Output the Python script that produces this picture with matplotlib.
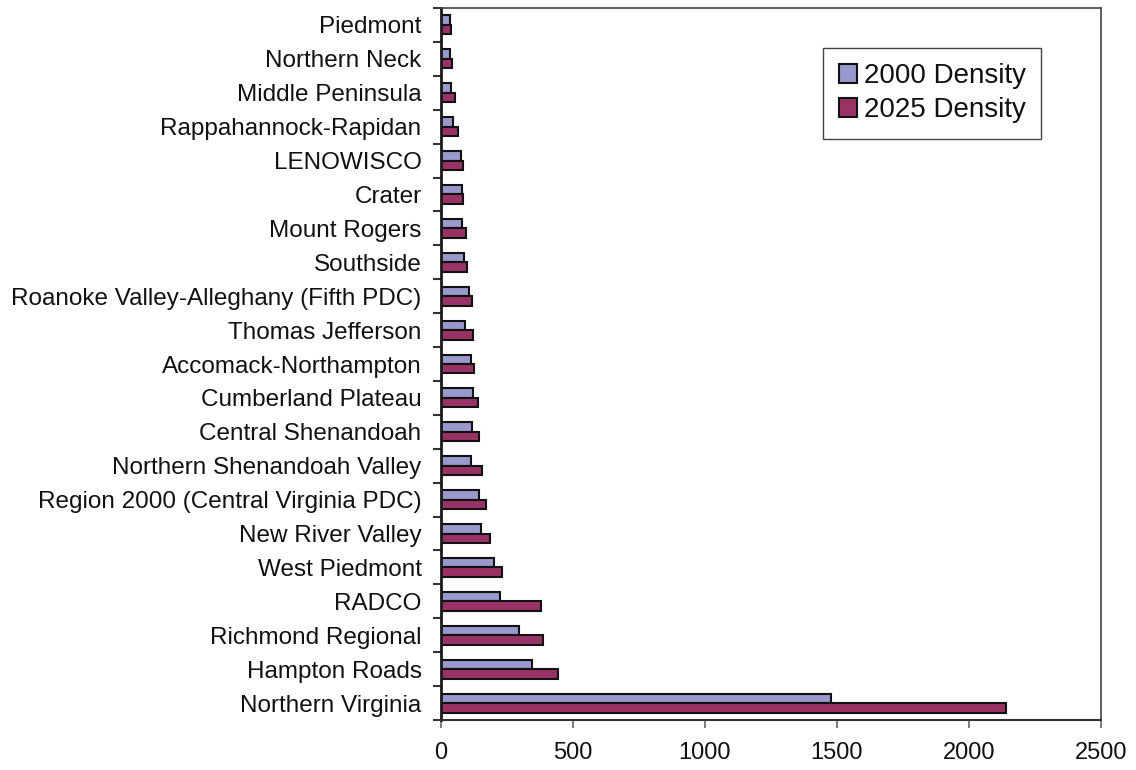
import matplotlib.pyplot as plt
import numpy as np
from matplotlib.ticker import FixedLocator

plt.rcParams['font.family'] = ['Liberation Sans', 'DejaVu Sans']

# Planning districts, listed top to bottom as drawn
regions = ["Piedmont", "Northern Neck", "Middle Peninsula", "Rappahannock-Rapidan",
           "LENOWISCO", "Crater", "Mount Rogers", "Southside",
           "Roanoke Valley-Alleghany (Fifth PDC)", "Thomas Jefferson",
           "Accomack-Northampton", "Cumberland Plateau", "Central Shenandoah",
           "Northern Shenandoah Valley", "Region 2000 (Central Virginia PDC)",
           "New River Valley", "West Piedmont", "RADCO", "Richmond Regional",
           "Hampton Roads", "Northern Virginia"]
density_2000 = [33, 34, 38, 46, 74, 78, 81, 89, 106, 92, 114, 121, 117, 114,
                143, 150, 200, 222, 294, 346, 1477]
density_2025 = [38, 42, 52, 64, 83, 83, 93, 98, 117, 123, 126, 140, 143, 154,
                172, 184, 230, 378, 386, 443, 2139]
x_ticks = [0, 500, 1000, 1500, 2000, 2500]

n = len(regions)
y = np.arange(n)[::-1]
h = 0.28

fig = plt.figure(figsize=(11.36, 7.7), dpi=100)
ax = fig.add_axes([441 / 1136, 50 / 770, 660 / 1136, 712 / 770])

ax.barh(y + h / 2, density_2000, height=h, color='#9999CC', edgecolor='#111111',
        linewidth=1.5, label='2000 Density')
ax.barh(y - h / 2, density_2025, height=h, color='#993366', edgecolor='#111111',
        linewidth=1.5, label='2025 Density')

ax.set_xlim(0, 2500)
ax.set_ylim(-0.5, n - 0.5)
ax.set_xticks(x_ticks)
ax.set_xticklabels([str(t) for t in x_ticks], fontsize=17)
ax.set_yticks(y)
ax.set_yticklabels(regions, fontsize=17.5)
ax.yaxis.set_minor_locator(FixedLocator(np.arange(-0.5, n, 1.0)))
ax.tick_params(axis='y', which='major', length=0, pad=14, colors='#111111')
ax.tick_params(axis='y', which='minor', length=6, width=1.5, direction='out', color='#333333')
ax.tick_params(axis='x', length=6, width=1.2, direction='out', pad=10, color='#666666',
               labelcolor='#111111')

ax.spines['left'].set_linewidth(2)
ax.spines['left'].set_color('#1a1a1a')
ax.spines['bottom'].set_linewidth(1.5)
ax.spines['bottom'].set_color('#333333')
for side in ('top', 'right'):
    ax.spines[side].set_linewidth(1.2)
    ax.spines[side].set_color('#444444')

leg = ax.legend(loc='upper right', bbox_to_anchor=(0.909, 0.944), borderaxespad=0,
                fontsize=20, fancybox=False, framealpha=1, edgecolor='#444444',
                handlelength=0.65, handleheight=0.65, handletextpad=0.25,
                borderpad=0.55, labelspacing=0.3)
leg.get_frame().set_linewidth(1.0)
for t in leg.get_texts():
    t.set_color('#111111')

plt.savefig("out.png", dpi=100)
